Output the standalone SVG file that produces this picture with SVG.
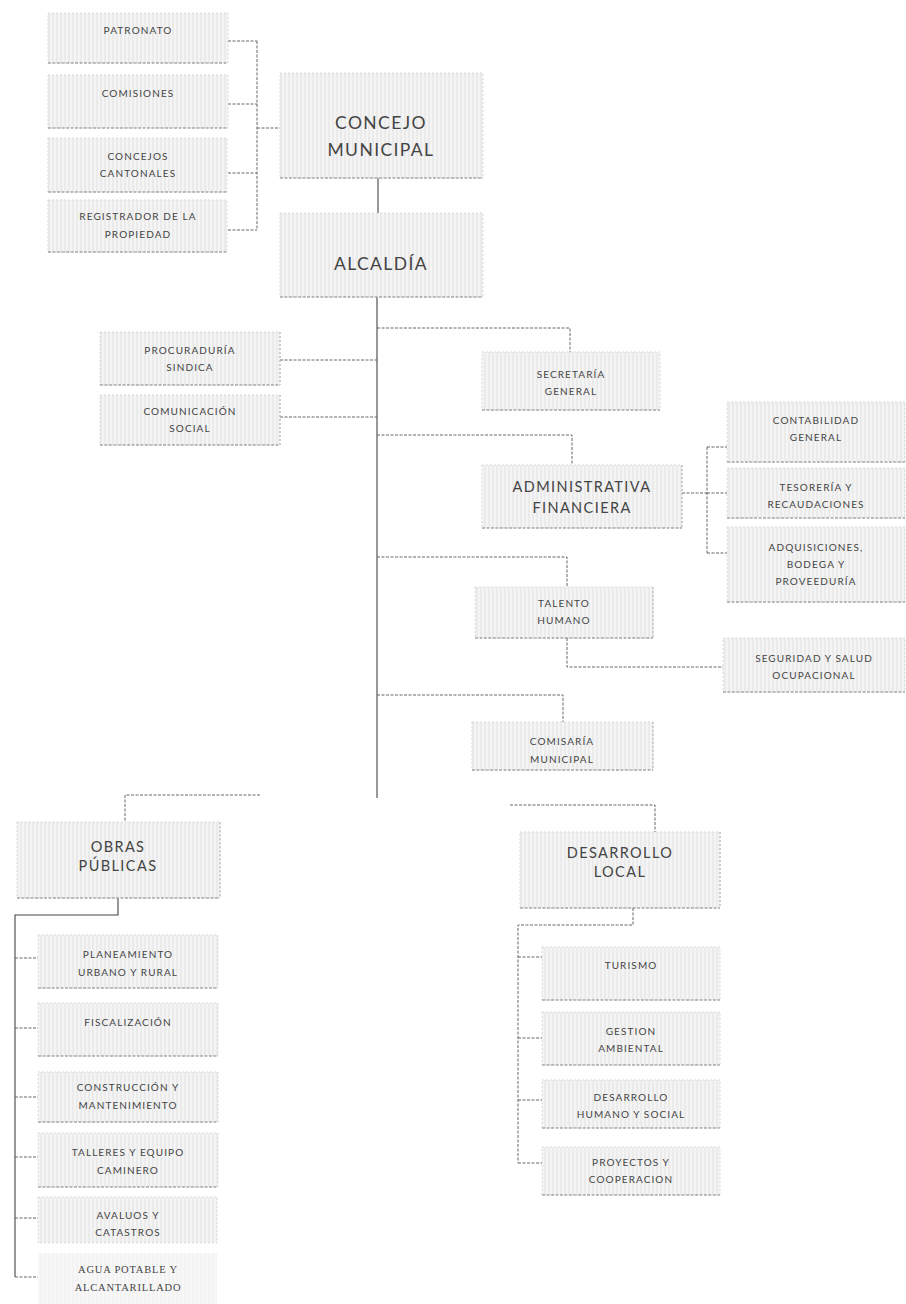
<svg xmlns="http://www.w3.org/2000/svg" width="906" height="1304" viewBox="0 0 906 1304">
<defs>
<pattern id="p" width="4" height="6" patternUnits="userSpaceOnUse">
<rect width="4" height="6" fill="#f4f4f4"/>
<line x1="1" y1="0" x2="1" y2="6" stroke="#e3e3e3" stroke-width="1"/>
</pattern>
<style>
.b{fill:url(#p);stroke:#d2d2d2;stroke-width:0.8;stroke-dasharray:2 2}
.bl{stroke:#8a8a8a;stroke-width:1.2;stroke-dasharray:3 1.5;fill:none}
.rl{stroke:#b0b0b0;stroke-width:1;stroke-dasharray:2 2;fill:none}
text{font-family:Lato,"Open Sans","Liberation Sans",sans-serif;fill:#444;text-anchor:middle}
.s{font-size:10px;letter-spacing:1.1px}
.m{font-size:14.5px;letter-spacing:1.4px}
.l{font-size:17.5px;letter-spacing:1.4px}
.t{font-family:"Liberation Serif",serif;font-size:10.5px;letter-spacing:0.8px}
.c{stroke:#666;stroke-width:1;stroke-dasharray:3 1.5;fill:none}
.k{stroke:#444;stroke-width:1.1;fill:none}
</style>
</defs>
<rect width="906" height="1304" fill="#fff"/>

<g id="connectors">
<path class="c" d="M228 41H257M228 104H257M228 173H257M228 230H257M257 41V230M257 128H285"/>
<path class="k" d="M378 178V213"/>
<path class="k" d="M377 297V798"/>
<path class="c" d="M280 360H377M280 417H377"/>
<path class="c" d="M377 328H570V352"/>
<path class="c" d="M377 435H572V465"/>
<path class="c" d="M682 493H707M707 447V553M707 447H727M707 493H727M707 553H727"/>
<path class="c" d="M377 557H567V587"/>
<path class="c" d="M567 638V667H723"/>
<path class="c" d="M377 695H563V722"/>
<path class="c" d="M260 795H125V822"/>
<path class="k" d="M118 898V915H15V1277"/>
<path class="c" d="M15 958H38M15 1028H38M15 1097H38M15 1157H38M15 1218H38M15 1277H38"/>
<path class="c" d="M510 805H655V832"/>
<path class="c" d="M633 908V925H518V1163"/>
<path class="c" d="M518 957H542M518 1038H542M518 1100H542M518 1163H542"/>
</g>

<g id="patronato"><rect class="b" x="48" y="13" width="180" height="50"/><path class="bl" d="M48 63H228"/><text class="s" x="138" y="34">PATRONATO</text></g>
<g id="comisiones"><rect class="b" x="48" y="75" width="180" height="53"/><path class="bl" d="M48 128H228"/><text class="s" x="138" y="97">COMISIONES</text></g>
<g id="concejos"><rect class="b" x="48" y="138" width="179" height="54"/><path class="bl" d="M48 192H227"/><text class="s" x="138" y="160">CONCEJOS</text><text class="s" x="138" y="177">CANTONALES</text></g>
<g id="registrador"><rect class="b" x="48" y="200" width="179" height="52"/><path class="bl" d="M48 252H227"/><text class="s" x="138" y="220">REGISTRADOR DE LA</text><text class="s" x="138" y="238">PROPIEDAD</text></g>

<g id="concejo-municipal"><rect class="b" x="280" y="73" width="203" height="105"/><path class="bl" d="M280 178H483"/><text class="l" x="381" y="129">CONCEJO</text><text class="l" x="381" y="156">MUNICIPAL</text></g>
<g id="alcaldia"><rect class="b" x="280" y="213" width="203" height="84"/><path class="bl" d="M280 297H483"/><text class="l" x="381" y="270">ALCALDÍA</text></g>

<g id="procuraduria"><rect class="b" x="100" y="332" width="180" height="53"/><path class="bl" d="M100 385H280"/><path class="rl" d="M280 332V385"/><text class="s" x="190" y="354">PROCURADURÍA</text><text class="s" x="190" y="371">SINDICA</text></g>
<g id="comunicacion"><rect class="b" x="100" y="395" width="180" height="50"/><path class="bl" d="M100 445H280"/><path class="rl" d="M280 395V445"/><text class="s" x="190" y="415">COMUNICACIÓN</text><text class="s" x="190" y="432">SOCIAL</text></g>

<g id="secretaria"><rect class="b" x="482" y="352" width="178" height="58"/><path class="bl" d="M482 410H660"/><text class="s" x="571" y="378">SECRETARÍA</text><text class="s" x="571" y="395">GENERAL</text></g>
<g id="administrativa"><rect class="b" x="482" y="465" width="200" height="63"/><path class="bl" d="M482 528H682"/><path class="rl" d="M682 465V528"/><text class="m" x="582" y="492">ADMINISTRATIVA</text><text class="m" x="582" y="513">FINANCIERA</text></g>
<g id="contabilidad"><rect class="b" x="727" y="402" width="178" height="60"/><path class="bl" d="M727 462H905"/><text class="s" x="816" y="424">CONTABILIDAD</text><text class="s" x="816" y="441">GENERAL</text></g>
<g id="tesoreria"><rect class="b" x="727" y="468" width="178" height="50"/><path class="bl" d="M727 518H905"/><text class="s" x="816" y="491">TESORERÍA Y</text><text class="s" x="816" y="508">RECAUDACIONES</text></g>
<g id="adquisiciones"><rect class="b" x="727" y="527" width="178" height="75"/><path class="bl" d="M727 602H905"/><text class="s" x="816" y="551">ADQUISICIONES,</text><text class="s" x="816" y="568">BODEGA Y</text><text class="s" x="816" y="585">PROVEEDURÍA</text></g>
<g id="talento"><rect class="b" x="475" y="587" width="178" height="51"/><path class="bl" d="M475 638H653"/><path class="rl" d="M653 587V638"/><text class="s" x="564" y="607">TALENTO</text><text class="s" x="564" y="624">HUMANO</text></g>
<g id="seguridad"><rect class="b" x="723" y="638" width="182" height="54"/><path class="bl" d="M723 692H905"/><text class="s" x="814" y="662">SEGURIDAD Y SALUD</text><text class="s" x="814" y="679">OCUPACIONAL</text></g>
<g id="comisaria"><rect class="b" x="472" y="722" width="181" height="48"/><path class="bl" d="M472 770H653"/><path class="rl" d="M653 722V770"/><text class="s" x="562" y="745">COMISARÍA</text><text class="s" x="562" y="763">MUNICIPAL</text></g>

<g id="obras"><rect class="b" x="17" y="822" width="203" height="76"/><path class="bl" d="M17 898H220"/><path class="rl" d="M220 822V898"/><text class="m" x="118" y="852">OBRAS</text><text class="m" x="118" y="871">PÚBLICAS</text></g>
<g id="planeamiento"><rect class="b" x="38" y="935" width="180" height="53"/><path class="bl" d="M38 988H218"/><text class="s" x="128" y="958">PLANEAMIENTO</text><text class="s" x="128" y="976">URBANO Y RURAL</text></g>
<g id="fiscalizacion"><rect class="b" x="38" y="1003" width="180" height="53"/><path class="bl" d="M38 1056H218"/><text class="s" x="128" y="1026">FISCALIZACIÓN</text></g>
<g id="construccion"><rect class="b" x="38" y="1072" width="180" height="50"/><path class="bl" d="M38 1122H218"/><text class="s" x="128" y="1091">CONSTRUCCIÓN Y</text><text class="s" x="128" y="1109">MANTENIMIENTO</text></g>
<g id="talleres"><rect class="b" x="38" y="1133" width="180" height="54"/><path class="bl" d="M38 1187H218"/><text class="s" x="128" y="1156">TALLERES Y EQUIPO</text><text class="s" x="128" y="1174">CAMINERO</text></g>
<g id="avaluos"><rect class="b" x="38" y="1197" width="179" height="46"/><text class="s" x="128" y="1219">AVALUOS Y</text><text class="s" x="128" y="1236">CATASTROS</text></g>
<g id="agua"><rect x="38" y="1253" width="179" height="51" fill="url(#p)" opacity="0.6"/><text class="t" x="128" y="1273">AGUA POTABLE Y</text><text class="t" x="128" y="1291">ALCANTARILLADO</text></g>

<g id="desarrollo-local"><rect class="b" x="520" y="832" width="200" height="76"/><path class="bl" d="M520 908H720"/><path class="rl" d="M720 832V908"/><text class="m" x="620" y="858">DESARROLLO</text><text class="m" x="620" y="877">LOCAL</text></g>
<g id="turismo"><rect class="b" x="542" y="947" width="178" height="53"/><path class="bl" d="M542 1000H720"/><text class="s" x="631" y="969">TURISMO</text></g>
<g id="gestion"><rect class="b" x="542" y="1012" width="178" height="53"/><path class="bl" d="M542 1065H720"/><text class="s" x="631" y="1035">GESTION</text><text class="s" x="631" y="1052">AMBIENTAL</text></g>
<g id="desarrollo-humano"><rect class="b" x="542" y="1080" width="178" height="48"/><path class="bl" d="M542 1128H720"/><text class="s" x="631" y="1101">DESARROLLO</text><text class="s" x="631" y="1118">HUMANO Y SOCIAL</text></g>
<g id="proyectos"><rect class="b" x="542" y="1147" width="178" height="48"/><path class="bl" d="M542 1195H720"/><text class="s" x="631" y="1166">PROYECTOS Y</text><text class="s" x="631" y="1183">COOPERACION</text></g>
</svg>
